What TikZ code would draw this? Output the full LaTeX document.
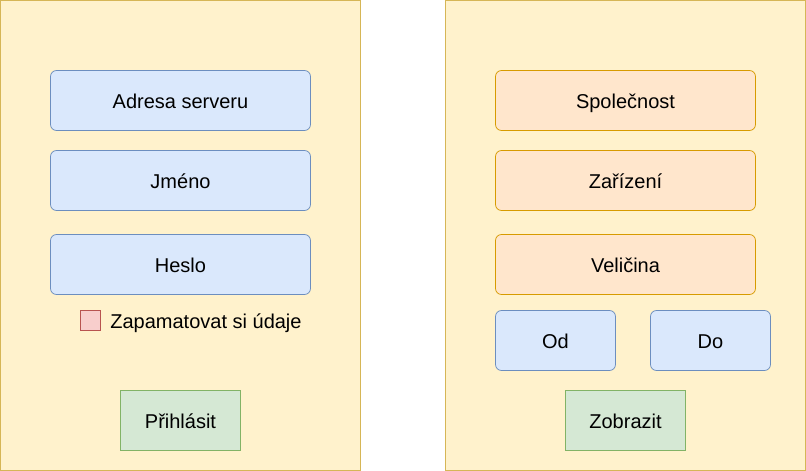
\documentclass[tikz,border=0pt]{standalone}
\usepackage{fontspec}
\setmainfont{Liberation Sans}
\definecolor{panelfill}{HTML}{FFF2CC}
\definecolor{paneldraw}{HTML}{D6B656}
\definecolor{bluefill}{HTML}{DAE8FC}
\definecolor{bluedraw}{HTML}{6C8EBF}
\definecolor{orangefill}{HTML}{FFE6CC}
\definecolor{orangedraw}{HTML}{D79B00}
\definecolor{greenfill}{HTML}{D5E8D4}
\definecolor{greendraw}{HTML}{82B366}
\definecolor{redfill}{HTML}{F8CECC}
\definecolor{reddraw}{HTML}{B85450}
\begin{document}
\begin{tikzpicture}[x=1pt,y=-1pt,line width=0.75pt,
  txt/.style={font=\fontsize{20}{24}\selectfont,text height=15pt,text depth=0pt},
  panel/.style={fill=panelfill,draw=paneldraw},
  field/.style={draw,txt,rounded corners=6pt,minimum width=260pt,minimum height=60pt,inner sep=0pt},
  bluebox/.style={field,fill=bluefill,draw=bluedraw},
  orangebox/.style={field,fill=orangefill,draw=orangedraw},
  smallblue/.style={bluebox,minimum width=120pt},
  button/.style={draw=greendraw,fill=greenfill,txt,minimum width=120pt,minimum height=60pt,inner sep=0pt},
  check/.style={draw=reddraw,fill=redfill,minimum size=20pt,inner sep=0pt},
  lbl/.style={anchor=west,inner sep=0pt,txt}]
\useasboundingbox (0,0) rectangle (806,471);
\path[panel] (0.5,0.5) rectangle (360.5,470.5);
\path[panel] (445.5,0.5) rectangle (805.5,470.5);
\node[bluebox] (adresa) at (180.5,100.5) {Adresa serveru};
\node[bluebox] (jmeno) at (180.5,180.5) {Jméno};
\node[bluebox] (heslo) at (180.5,264.5) {Heslo};
\node[check] (chk) at (90.5,320.5) {};
\node[lbl] (zap) at (110,321) {Zapamatovat si údaje};
\node[button] (prihlasit) at (180.5,420.5) {Přihlásit};
\node[orangebox] (spol) at (625.5,100.5) {Společnost};
\node[orangebox] (zariz) at (625.5,180.5) {Zařízení};
\node[orangebox] (vel) at (625.5,264.5) {Veličina};
\node[smallblue] (od) at (555.5,340.5) {Od};
\node[smallblue] (do) at (710.5,340.5) {Do};
\node[button] (zobrazit) at (625.5,420.5) {Zobrazit};
\end{tikzpicture}
\end{document}
